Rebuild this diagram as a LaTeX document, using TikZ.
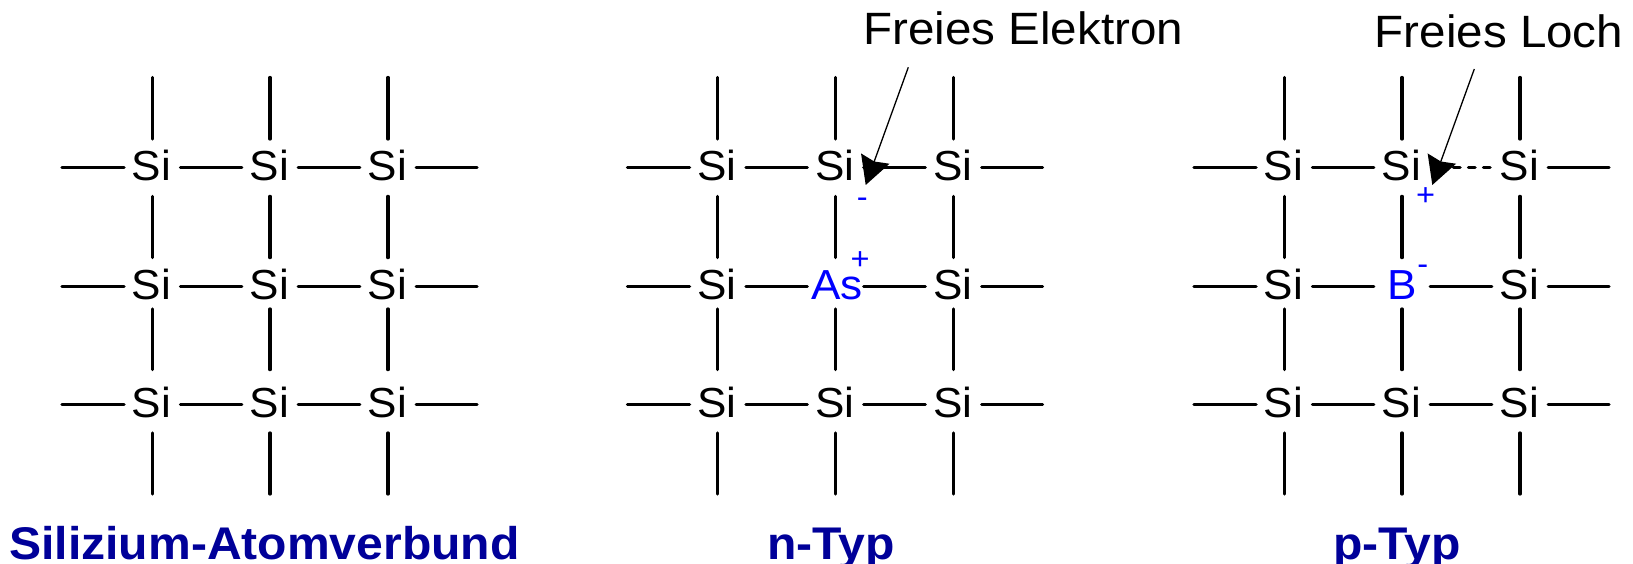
\documentclass[tikz,border=0pt]{standalone}
\usepackage{fontspec}
\setmainfont[FakeStretch=1.05]{Liberation Sans}
\usetikzlibrary{arrows.meta}

\begin{document}
\begin{tikzpicture}[
  x=1pt, y=-1pt,
  dopant/.style = {
    rectangle, inner sep=0pt, minimum width=56pt,
    text height=41.5pt, text depth=15.5pt,
    text=dopantblue, font=\fontsize{42}{42}\selectfont
  },
  atom/.style = {dopant, text=black, execute at end node=\kern1.5pt},
  charge/.style = {inner sep=0pt, text=dopantblue, font=\fontsize{31}{31}\selectfont},
  bond/.style = {line width=3.3pt, line cap=round},
  holebond/.style = {line width=3.3pt, line cap=round, dash pattern=on 6.6pt off 8.4pt, shorten <=1.7pt},
  pointer/.style = {-{Stealth[length=28pt, width=30pt, inset=3pt]}, line width=1.3pt},
  caption/.style = {anchor=base, inner sep=0pt, font=\fontsize{45.3}{46}\selectfont},
  heading/.style = {anchor=base, inner sep=0pt, text=headingblue,
    font=\fontsize{45.8}{46}\selectfont\bfseries}
]
\definecolor{dopantblue}{HTML}{0000FF}
\definecolor{headingblue}{HTML}{000099}
\useasboundingbox (0,0) rectangle (1633,564);
%--- ATOMS ---
\foreach \g/\dx in {s/0, n/565.5, p/1132} {
  \foreach \r/\y/\c/\x in {1/167.7/1/152.3, 1/167.7/2/270, 1/167.7/3/388,
                           2/286.3/1/152.3, 2/286.3/3/388,
                           3/404.3/1/152.3, 3/404.3/2/270, 3/404.3/3/388}
    \node[atom] (\g\r\c) at (\x+\dx,\y) {Si};
}
\node[atom]   (s22) at (270,286.3)    {Si};
\node[dopant] (n22) at (835.5,286.3)  {\kern2.5pt As};
\node[dopant] (p22) at (1402,286.3)   {B};
%--- BONDS ---
\foreach \g/\dx in {s/0, n/565.5, p/1132} {
  \foreach \c/\x in {1/152.3, 2/270, 3/388} {
    \coordinate (\g top\c) at (\x+\dx,77.5);
    \coordinate (\g bot\c) at (\x+\dx,494);
    \draw[bond] (\g top\c) -- (\g1\c.north);
    \draw[bond] (\g1\c.south) -- (\g2\c.north);
    \draw[bond] ([yshift=6pt]\g2\c.south) -- ([yshift=6pt]\g3\c.north);
    \draw[bond] (\g3\c.south) -- (\g bot\c);
  }
  \foreach \r/\y in {1/167.7, 2/286.3, 3/404.3} {
    \coordinate (\g left\r) at (62+\dx,\y);
    \coordinate (\g right\r) at (477+\dx,\y);
    \draw[bond] (\g left\r) -- (\g\r1.west);
    \draw[bond] (\g\r1.east) -- (\g\r2.west);
    \draw[bond] (\g\r3.east) -- (\g right\r);
  }
  \foreach \r in {2,3}
    \draw[bond] (\g\r2.east) -- (\g\r3.west);
}
\draw[bond] (s12.east) -- (s13.west);
\draw[bond] (n12.east) -- (n13.west);
\draw[holebond] (p13.west) -- (p12.east);
%--- CHARGES ---
\node[charge] (nminus) at (862.3,202.7) {-};
\node[charge] (nplus)  at (860,261)     {+};
\node[charge] (pplus)  at (1425.7,196.7) {+};
\node[charge] (pminus) at (1422.7,270)  {-};
%--- CAPTIONS AND ARROWS ---
\node[caption] (elektron) at (1023.3,44.3) {Freies Elektron};
\node[caption] (loch)     at (1499,47.7)   {Freies Loch};
\coordinate (elektronfrom) at (908.3,67.3);
\coordinate (elektronto)   at (865.7,185);
\coordinate (lochfrom)     at (1474.3,69);
\coordinate (lochto)       at (1432.3,185);
\draw[pointer] (elektronfrom) -- (elektronto);
\draw[pointer] (lochfrom) -- (lochto);
%--- HEADINGS ---
\node[heading] (siheading) at (264.5,559.5) {Silizium-Atomverbund};
\node[heading] (nheading)  at (831,559.5) {n-Typ};
\node[heading] (pheading)  at (1397,559.5) {p-Typ};
\end{tikzpicture}
\end{document}
